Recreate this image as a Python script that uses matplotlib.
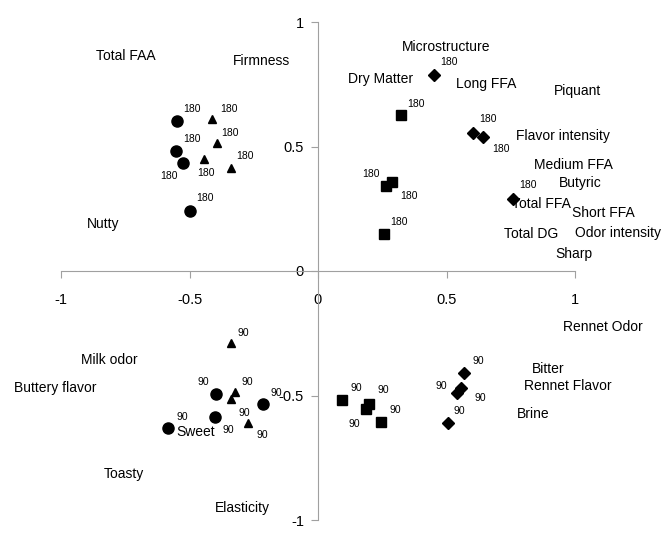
import matplotlib
matplotlib.use("Agg")
import matplotlib.pyplot as plt

# ---------------------------------------------------------------------------
# Data: sample scores
# ---------------------------------------------------------------------------
circ180_x = [-0.549, -0.553, -0.525, -0.498]
circ180_y = [0.602, 0.482, 0.434, 0.241]
tri180_x = [-0.412, -0.393, -0.444, -0.339]
tri180_y = [0.610, 0.514, 0.450, 0.414]
sq180_x = [0.323, 0.265, 0.288, 0.257]
sq180_y = [0.627, 0.341, 0.357, 0.149]
dia180_x = [0.451, 0.603, 0.642, 0.758]
dia180_y = [0.787, 0.554, 0.538, 0.289]

tri90_x = [-0.339, -0.323, -0.339, -0.272]
tri90_y = [-0.289, -0.486, -0.514, -0.610]
circ90_x = [-0.397, -0.401, -0.214, -0.584]
circ90_y = [-0.494, -0.586, -0.534, -0.631]
sq90_x = [0.093, 0.198, 0.187, 0.245]
sq90_y = [-0.518, -0.534, -0.554, -0.606]
dia90_x = [0.568, 0.556, 0.541, 0.506]
dia90_y = [-0.410, -0.470, -0.490, -0.610]

# variable loadings
var_names = ["Total FAA", "Firmness", "Nutty", "Microstructure", "Dry Matter",
             "Long FFA", "Piquant", "Flavor intensity", "Medium FFA", "Butyric",
             "Total FFA", "Short FFA", "Total DG", "Odor intensity", "Sharp",
             "Rennet Odor", "Bitter", "Rennet Flavor", "Brine", "Milk odor",
             "Buttery flavor", "Sweet", "Toasty", "Elasticity"]
var_x = [-0.747, -0.218, -0.837, 0.498, 0.245, 0.654, 1.008, 0.953, 0.992, 1.019,
         0.868, 1.109, 0.829, 1.167, 0.996, 1.109, 0.895, 0.973, 0.837, -0.813,
         -1.023, -0.475, -0.755, -0.296]
var_y = [0.863, 0.843, 0.189, 0.900, 0.771, 0.751, 0.723, 0.542, 0.426, 0.353,
         0.269, 0.233, 0.149, 0.153, 0.068, -0.225, -0.394, -0.462, -0.574, -0.357,
         -0.470, -0.647, -0.815, -0.952]

ticks = [-1, -0.5, 0, 0.5, 1]
tick_labels = ["-1", "-0.5", "0", "0.5", "1"]

# label offsets in pixels (layout only)
circ180_off = [(15, 12), (16, 12), (-14, -13), (15, 13)]
tri180_off = [(17, 10), (13, 10), (2, -14), (14, 12)]
sq180_off = [(15, 11), (-15, 12), (17, -14), (15, 12)]
dia180_off = [(15, 13), (15, 14), (18, -12), (15, 14)]
tri90_off = [(12, 10), (12, 10), (13, -14), (14, -12)]
circ90_off = [(-13, 12), (13, -13), (13, 11), (14, 11)]
sq90_off = [(14, 12), (14, 14), (-12, -15), (14, 12)]
dia90_off = [(14, 12), (19, -10), (-16, 7), (11, 12)]

plt.rcParams["font.family"] = ["Liberation Sans", "DejaVu Sans"]

fig = plt.figure(figsize=(6.62, 5.37), dpi=100)
ax = fig.add_axes([61 / 662, 17 / 537, 514 / 662, 498 / 537])
ax.set_xlim(-1, 1)
ax.set_ylim(-1, 1)

groups = [
    (circ180_x, circ180_y, "o", 8, circ180_off, "180"),
    (tri180_x, tri180_y, "^", 6, tri180_off, "180"),
    (sq180_x, sq180_y, "s", 6.5, sq180_off, "180"),
    (dia180_x, dia180_y, "D", 6, dia180_off, "180"),
    (tri90_x, tri90_y, "^", 6, tri90_off, "90"),
    (circ90_x, circ90_y, "o", 8, circ90_off, "90"),
    (sq90_x, sq90_y, "s", 6.5, sq90_off, "90"),
    (dia90_x, dia90_y, "D", 6, dia90_off, "90"),
]
for gx, gy, mk, ms, offs, lab in groups:
    ax.plot(gx, gy, ls="none", marker=mk, ms=ms, color="black", clip_on=False)
    for px, py, off in zip(gx, gy, offs):
        ax.annotate(lab, (px, py), xytext=off, textcoords="offset pixels",
                    ha="center", va="center", fontsize=7.5, annotation_clip=False)

for name, vx, vy in zip(var_names, var_x, var_y):
    ax.text(vx, vy, name, ha="center", va="center", fontsize=10, clip_on=False)

# axes crossing at the origin
for side in ["top", "right"]:
    ax.spines[side].set_visible(False)
ax.spines["left"].set_position(("data", 0))
ax.spines["bottom"].set_position(("data", 0))
for side in ["left", "bottom"]:
    ax.spines[side].set_color("#a0a0a0")
    ax.spines[side].set_linewidth(0.8)

ax.set_xticks(ticks)
ax.set_xticklabels(tick_labels)
ax.set_yticks(ticks)
ax.set_yticklabels(tick_labels)
ax.tick_params(axis="both", direction="out", length=5, width=0.8,
               color="#a0a0a0", labelsize=10.5)
ax.tick_params(axis="x", pad=11)
ax.tick_params(axis="y", pad=5)
ax.patch.set_visible(False)

fig.savefig("out.png", dpi=100)
